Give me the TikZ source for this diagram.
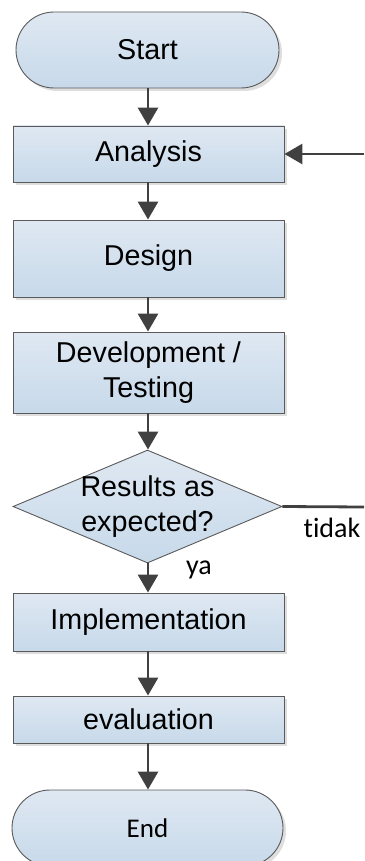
\documentclass[tikz,border=0pt]{standalone}
\usepackage{fontspec}
\setmainfont{Liberation Sans}
\newfontfamily\calfont[Ligatures=NoCommon]{Carlito}
\usetikzlibrary{shapes.geometric,shapes.misc,shadows,arrows.meta}
\definecolor{boxtop}{HTML}{DFE8F2}
\definecolor{boxbot}{HTML}{C7D9EA}
\definecolor{boxline}{HTML}{5A5A5A}
\definecolor{arrowc}{HTML}{404040}
\tikzset{
  base/.style={draw=boxline, line width=0.9pt, top color=boxtop, bottom color=boxbot,
    inner sep=0pt, align=center, font=\fontsize{28.7pt}{35pt}\selectfont,
    drop shadow={shadow xshift=3pt, shadow yshift=-3pt, fill=black!13, opacity=1}},
  procbox/.style={base, rectangle, minimum width=271pt},
  termbox/.style={base, rounded rectangle},
  decbox/.style={draw=boxline, line width=0.9pt, top color=boxtop, bottom color=boxbot,
    diamond, inner sep=0pt, minimum width=269pt, minimum height=113pt, aspect=2.38},
  flow/.style={draw=arrowc, line width=2.8pt, -{Triangle[length=18pt,width=20pt]}},
  plainline/.style={draw=arrowc, line width=2.8pt},
  lbl/.style={font=\calfont\fontsize{28pt}{34pt}\selectfont, inner sep=0pt}
}
\begin{document}
\begin{tikzpicture}[x=1pt,y=-1pt]
\useasboundingbox (0,0) rectangle (364,861);
\node[termbox, minimum width=263pt, minimum height=76pt] (start) at (147.5,50) {Start};
\node[procbox, minimum height=56pt] (ana) at (148.5,154) {Analysis};
\node[procbox, minimum height=77pt] (des) at (148.5,258.5) {Design};
\node[procbox, minimum height=81pt] (dev) at (148.5,372.5) {Development /\\Testing};
\node[decbox] (dec) at (147.5,506.5) {};
\node[align=center, inner sep=0pt, font=\fontsize{28.7pt}{35pt}\selectfont] (dectxt) at (147.5,507) {Results as\\expected?};
\node[procbox, minimum height=58pt] (imp) at (148.5,622) {Implementation};
\node[procbox, minimum height=47pt] (eva) at (148.5,719.5) {evaluation};
\node[termbox, minimum width=271pt, minimum height=76pt, font=\calfont\fontsize{27pt}{32pt}\selectfont] (end) at (147.5,828) {End};
\coordinate (rtop) at (364,154);
\coordinate (rbot) at (364,507);
\draw[flow] (start.south -| 148,0) -- (ana.north -| 148,0);
\draw[flow] (ana.south -| 148,0) -- (des.north -| 148,0);
\draw[flow] (des.south -| 148,0) -- (dev.north -| 148,0);
\draw[flow] (dev.south -| 148,0) -- (dec.north -| 148,0);
\draw[flow] (dec.south -| 148,0) -- (imp.north -| 148,0);
\draw[flow] (imp.south -| 148,0) -- (eva.north -| 148,0);
\draw[flow] (eva.south -| 148,0) -- (end.north -| 148,0);
\draw[plainline] (dec.east) -- (rbot);
\draw[flow] (rtop) -- (ana.east);
\node[lbl] (ya) at (199,570) {ya};
\node[lbl] (tidak) at (332,528) {tidak};
\end{tikzpicture}
\end{document}
